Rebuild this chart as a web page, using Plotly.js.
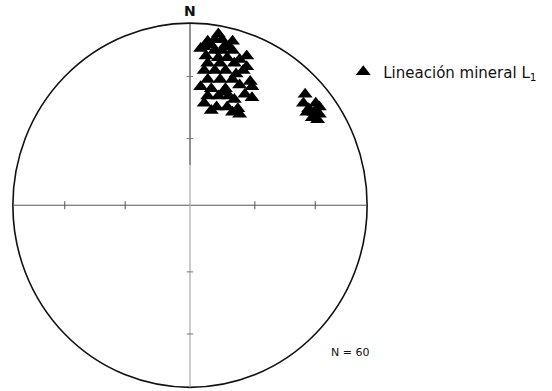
<!DOCTYPE html>
<html>
<head>
<meta charset="utf-8">
<script src="https://cdn.plot.ly/plotly-3.0.1.min.js"></script>
<style>
  body { margin: 0; background: #fff; }
  #plot { width: 552px; height: 391px; }
</style>
</head>
<body>
<div id="plot"></div>
<script>
// lineation L1, equal-area projection coords (unit circle = primitive)
var lineX = [0.16, 0.08, 0.12, 0.20, 0.24, 0.06, 0.32, 0.10, 0.17, 0.25, 0.32,
  0.08, 0.14, 0.20, 0.26, 0.10, 0.17, 0.24, 0.34, 0.06, 0.12, 0.20, 0.28, 0.35,
  0.10, 0.16, 0.22, 0.35, 0.08, 0.15, 0.21, 0.27, 0.12, 0.24, 0.28,
  0.10, 0.14, 0.18, 0.22, 0.14, 0.18, 0.24, 0.09, 0.16, 0.21, 0.28,
  0.30, 0.19, 0.25, 0.31];
var lineY = [0.94, 0.87, 0.88, 0.88, 0.90, 0.86, 0.82, 0.78, 0.78, 0.78, 0.76,
  0.74, 0.74, 0.74, 0.72, 0.69, 0.69, 0.69, 0.68, 0.65, 0.64, 0.64, 0.66, 0.65,
  0.60, 0.60, 0.60, 0.59, 0.56, 0.54, 0.54, 0.53, 0.52, 0.51, 0.50,
  0.90, 0.91, 0.91, 0.87, 0.85, 0.85, 0.85, 0.82, 0.81, 0.81, 0.80,
  0.74, 0.62, 0.58, 0.61];
var lineX2 = [0.65, 0.64, 0.66, 0.71, 0.70, 0.73, 0.72, 0.69, 0.67, 0.73];
var lineY2 = [0.61, 0.56, 0.51, 0.56, 0.51, 0.50, 0.47, 0.48, 0.53, 0.54];

var tickR = [0.366, 0.707];   // 60 and 30 deg plunge
var nLabel = "N = 60";
var legendName = "Lineación mineral L<sub>1</sub>";

var allX = lineX.concat(lineX2);
var allY = lineY.concat(lineY2);

var data = [{
  x: allX,
  y: allY,
  type: "scatter",
  mode: "markers",
  name: legendName,
  marker: { symbol: "triangle-up", size: 13, color: "#000", line: { width: 0 } },
  cliponaxis: false
}];

var shapes = [];
// primitive circle
shapes.push({ type: "circle", xref: "x", yref: "y", x0: -1, x1: 1, y0: -1, y1: 1,
  line: { color: "#111", width: 1.6 } });
// cross
shapes.push({ type: "line", xref: "x", yref: "y", x0: -1, x1: 1, y0: 0, y1: 0,
  line: { color: "#555", width: 1 } });
shapes.push({ type: "line", xref: "x", yref: "y", x0: 0, x1: 0, y0: 1, y1: 0.22,
  line: { color: "#222", width: 1 } });
shapes.push({ type: "line", xref: "x", yref: "y", x0: 0, x1: 0, y0: 0.22, y1: -1,
  line: { color: "#aaa", width: 1.2 } });
// ticks
tickR.forEach(function (r) {
  [-r, r].forEach(function (v) {
    shapes.push({ type: "line", xref: "x", yref: "y", x0: v, x1: v, y0: -0.022, y1: 0.022,
      line: { color: "#555", width: 1 } });
    shapes.push({ type: "line", xref: "x", yref: "y", x0: -0.018, x1: 0.018, y0: v, y1: v,
      line: { color: "#777", width: 1 } });
  });
});

var noAxis = { showgrid: false, zeroline: false, showticklabels: false,
  showline: false, ticks: "", fixedrange: true };

var layout = {
  width: 552,
  height: 391,
  margin: { l: 4, r: 176, t: 14, b: 0, autoexpand: false },
  paper_bgcolor: "#fff",
  plot_bgcolor: "#fff",
  font: { family: "'DejaVu Sans', sans-serif", color: "#111" },
  xaxis: Object.assign({ range: [-1.05, 1.05] }, noAxis),
  yaxis: Object.assign({ range: [-1.02, 1.05] }, noAxis),
  showlegend: true,
  legend: {
    x: 0.912, y: 0.846, xanchor: "left", yanchor: "middle",
    bgcolor: "rgba(0,0,0,0)",
    font: { size: 15, family: "'DejaVu Sans', sans-serif", color: "#111" }
  },
  shapes: shapes,
  annotations: [
    { x: 0, y: 1, xref: "x", yref: "y", text: "<b>N</b>", showarrow: false,
      yanchor: "bottom", yshift: 2, font: { size: 14, family: "'DejaVu Sans', sans-serif", color: "#111" } },
    { x: 0.904, y: -0.808, xref: "x", yref: "y", text: nLabel, showarrow: false,
      font: { size: 11, family: "'DejaVu Sans', sans-serif", color: "#111" } }
  ]
};

Plotly.newPlot("plot", data, layout, { displayModeBar: false, staticPlot: true });
</script>
</body>
</html>
